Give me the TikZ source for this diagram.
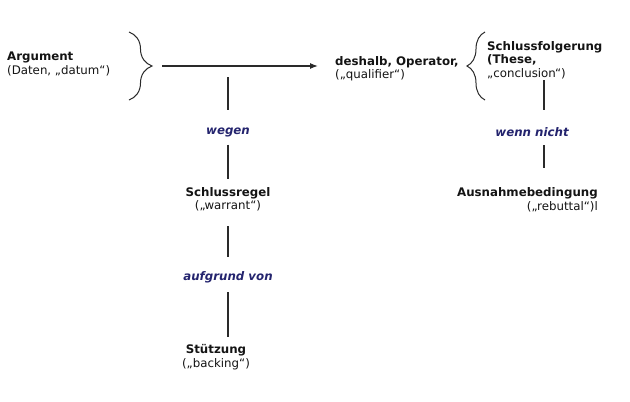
\documentclass[tikz,border=0pt]{standalone}
\usepackage{fontspec}
\setmainfont{DejaVu Sans}
\usetikzlibrary{positioning,calc,arrows.meta,decorations.pathreplacing}
\definecolor{ink}{HTML}{141414}
\definecolor{navy}{HTML}{24246E}
\definecolor{rule}{HTML}{2A2A2A}
\tikzset{
	% text blocks of the scheme
	part/.style = {inner sep=0pt, text=ink,
                           font=\fontsize{11.8}{13.5}\selectfont},
	% relation words between the blocks
	rel/.style = {inner sep=0pt, text=navy,
                           font=\fontsize{11.8}{13.5}\selectfont\bfseries\itshape},
	link/.style = {draw=rule, line width=1.2pt},
	brc/.style = {draw=rule, line width=1pt, decorate,
                           decoration={brace, amplitude=#1}}
}
\begin{document}
\begin{tikzpicture}[x=1pt, y=-1pt]
		\useasboundingbox (0,0) rectangle (630,402);
		% upper row
		\node (arg)   [part, anchor=north west, align=left] at (7,52)   {\textbf{Argument}\\(Daten, „datum“)};
		\node (qual)  [part, anchor=north west, align=left] at (335,56) {\textbf{deshalb, Operator,}\\ („qualifier“)};
		\node (concl) [part, anchor=north west, align=left] at (487,41) {\textbf{Schlussfolgerung}\\\textbf{(These,}\\„conclusion“)};
		\draw[brc=23] (129,32) -- (129,100);
		\draw[brc=18] (485,100) -- (485,32);
		\coordinate (argtip) at (152,66);
		\coordinate (mid) at (228,66);
		\coordinate (rb) at (544,80);
		
		% left column
		\node (wegen) [rel, anchor=base]  at (228,134)   {wegen};
		\node (warr)  [part, anchor=north, align=center] at (228,187) {\textbf{Schlussregel}\\(„warrant“)};
		\node (aufgr) [rel, anchor=base]  at (228,280.5) {aufgrund von};
		\node (back)  [part, anchor=north, align=center] at (216,344.5) {\textbf{Stützung}\\(„backing“)};
		
		% right column
		\node (wenn)  [rel, anchor=base] at (532,136) {wenn nicht};
		\node (reb)   [part, anchor=north east, align=right] at (598,187.5) {\textbf{Ausnahmebedingung}\\(„rebuttal“)l};
		
		\draw[link, -{Latex[length=8pt,width=6pt]}, shorten <=10pt, shorten >=17pt] (argtip) -- (argtip -| qual.west);
		\draw[link, shorten <=11pt, shorten >=17.5pt] (mid) -- (mid |- wegen.north);
		\draw[link, shorten <=8pt, shorten >=8pt] (wegen.south) -- (warr.north);
		\draw[link, shorten <=15pt, shorten >=14.5pt] (warr.south) -- (aufgr.north);
		\draw[link, shorten <=9pt, shorten >=7.5pt] (aufgr.south) -- (aufgr.south |- back.north);
		\draw[link, shorten >=17pt] (rb) -- (rb |- wenn.north);
		\draw[link, shorten <=9pt, shorten >=19.5pt] (rb |- wenn.south) -- (rb |- reb.north);
	\end{tikzpicture}
\end{document}
